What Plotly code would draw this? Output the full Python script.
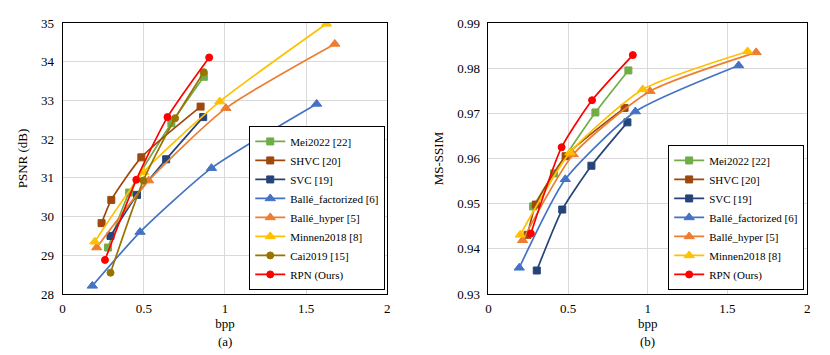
import plotly.graph_objects as go

# rate-distortion data
methods = ["Mei2022 [22]", "SHVC [20]", "SVC [19]", "Ballé_factorized [6]",
           "Ballé_hyper [5]", "Minnen2018 [8]", "Cai2019 [15]", "RPN (Ours)"]

bpp_psnr = {
    "Mei2022 [22]": [0.28, 0.41, 0.67, 0.87],
    "SHVC [20]": [0.24, 0.30, 0.485, 0.85],
    "SVC [19]": [0.295, 0.458, 0.638, 0.866],
    "Ballé_factorized [6]": [0.183, 0.477, 0.917, 1.565],
    "Ballé_hyper [5]": [0.21, 0.53, 1.006, 1.677],
    "Minnen2018 [8]": [0.198, 0.499, 0.968, 1.626],
    "Cai2019 [15]": [0.295, 0.497, 0.693, 0.87],
    "RPN (Ours)": [0.261, 0.454, 0.646, 0.903],
}
psnr = {
    "Mei2022 [22]": [29.20, 30.62, 32.41, 33.61],
    "SHVC [20]": [29.83, 30.43, 31.53, 32.84],
    "SVC [19]": [29.50, 30.56, 31.48, 32.57],
    "Ballé_factorized [6]": [28.21, 29.60, 31.25, 32.91],
    "Ballé_hyper [5]": [29.20, 30.93, 32.80, 34.46],
    "Minnen2018 [8]": [29.35, 31.15, 32.97, 34.98],
    "Cai2019 [15]": [28.55, 30.93, 32.54, 33.73],
    "RPN (Ours)": [28.88, 30.95, 32.57, 34.11],
}

bpp_ssim = {
    "Mei2022 [22]": [0.28, 0.411, 0.671, 0.878],
    "SHVC [20]": [0.245, 0.297, 0.484, 0.854],
    "SVC [19]": [0.303, 0.463, 0.646, 0.872],
    "Ballé_factorized [6]": [0.193, 0.482, 0.922, 1.57],
    "Ballé_hyper [5]": [0.214, 0.532, 1.014, 1.68],
    "Minnen2018 [8]": [0.199, 0.511, 0.968, 1.626],
    "RPN (Ours)": [0.266, 0.459, 0.650, 0.906],
}
ms_ssim = {
    "Mei2022 [22]": [0.9494, 0.9567, 0.9702, 0.9795],
    "SHVC [20]": [0.9431, 0.9498, 0.9605, 0.9712],
    "SVC [19]": [0.9352, 0.9487, 0.9584, 0.9680],
    "Ballé_factorized [6]": [0.9358, 0.9554, 0.9704, 0.9806],
    "Ballé_hyper [5]": [0.9419, 0.9609, 0.9749, 0.9835],
    "Minnen2018 [8]": [0.9431, 0.9613, 0.9753, 0.9837],
    "RPN (Ours)": [0.9434, 0.9625, 0.9729, 0.9829],
}

colors = {
    "Mei2022 [22]": "#70AD47",
    "SHVC [20]": "#9E480E",
    "SVC [19]": "#264478",
    "Ballé_factorized [6]": "#4472C4",
    "Ballé_hyper [5]": "#ED7D31",
    "Minnen2018 [8]": "#FFC000",
    "Cai2019 [15]": "#997300",
    "RPN (Ours)": "#FF0000",
}
symbols = {
    "Mei2022 [22]": ("square", 7),
    "SHVC [20]": ("square", 7),
    "SVC [19]": ("square", 7),
    "Ballé_factorized [6]": ("triangle-up", 9),
    "Ballé_hyper [5]": ("triangle-up", 9),
    "Minnen2018 [8]": ("triangle-up", 9),
    "Cai2019 [15]": ("circle", 7),
    "RPN (Ours)": ("circle", 7),
}

FONT = "Liberation Serif, Times New Roman, serif"
# the page has an 8px body margin, so the figure is 822x347 inside the 830x355 window
W, H = 822, 347
fig = go.Figure()


def add_series(name, x, y, xa, ya, legend):
    sym, size = symbols[name]
    fig.add_trace(go.Scatter(
        x=x, y=y, name=name, mode="lines+markers",
        line=dict(color=colors[name], width=1.7, shape="spline", smoothing=0.6),
        marker=dict(symbol=sym, size=size, color=colors[name],
                    line=dict(color=colors[name], width=1)),
        xaxis=xa, yaxis=ya, legend=legend))


for m in methods:
    add_series(m, bpp_psnr[m], psnr[m], "x", "y", "legend")
for m in methods:
    if m in ms_ssim:
        add_series(m, bpp_ssim[m], ms_ssim[m], "x2", "y2", "legend2")

common = dict(showline=True, linecolor="black", linewidth=1, mirror=True,
              showgrid=True, gridcolor="#D9D9D9", zeroline=False,
              ticks="outside", tickcolor="rgba(0,0,0,0)",
              tickfont=dict(family=FONT, size=13, color="black"))
x_style = dict(ticklen=2, **common)
y_style = dict(ticklen=5, **common)

legend_style = dict(bgcolor="white", bordercolor="black", borderwidth=1,
                    font=dict(family=FONT, size=11, color="black"),
                    xanchor="right", yanchor="bottom", tracegroupgap=0,
                    itemwidth=30)

title_font = dict(family=FONT, size=13, color="black")

fig.update_layout(
    width=W, height=H, autosize=False,
    margin=dict(l=0, r=0, t=15, b=61),
    plot_bgcolor="white", paper_bgcolor="white",
    font=dict(family=FONT, size=12, color="black"),
    xaxis=dict(domain=[52 / W, 379 / W], range=[0, 2], dtick=0.5,
               title=dict(text="bpp", font=title_font, standoff=2),
               anchor="y", **x_style),
    yaxis=dict(domain=[0, 1], range=[28, 35], dtick=1,
               title=dict(text="PSNR (dB)", font=title_font, standoff=10),
               anchor="x", **y_style),
    xaxis2=dict(domain=[481 / W, 802 / W], range=[0, 2], dtick=0.5,
                title=dict(text="bpp", font=title_font, standoff=2),
                anchor="y2", **x_style),
    yaxis2=dict(domain=[0, 1], range=[0.93, 0.99], dtick=0.01, tickformat=".2f",
                title=dict(text="MS-SSIM", font=title_font, standoff=10),
                anchor="x2", **y_style),
    legend=dict(x=377 / W, y=0.015, **legend_style),
    legend2=dict(x=799 / W, y=0.015, **legend_style),
    annotations=[
        dict(text="(a)", x=0.5, xref="x domain", y=-47 / 271, yref="paper",
             yanchor="middle", showarrow=False, font=title_font),
        dict(text="(b)", x=0.5, xref="x2 domain", y=-47 / 271, yref="paper",
             yanchor="middle", showarrow=False, font=title_font),
    ],
)

fig.write_html("out.html")
